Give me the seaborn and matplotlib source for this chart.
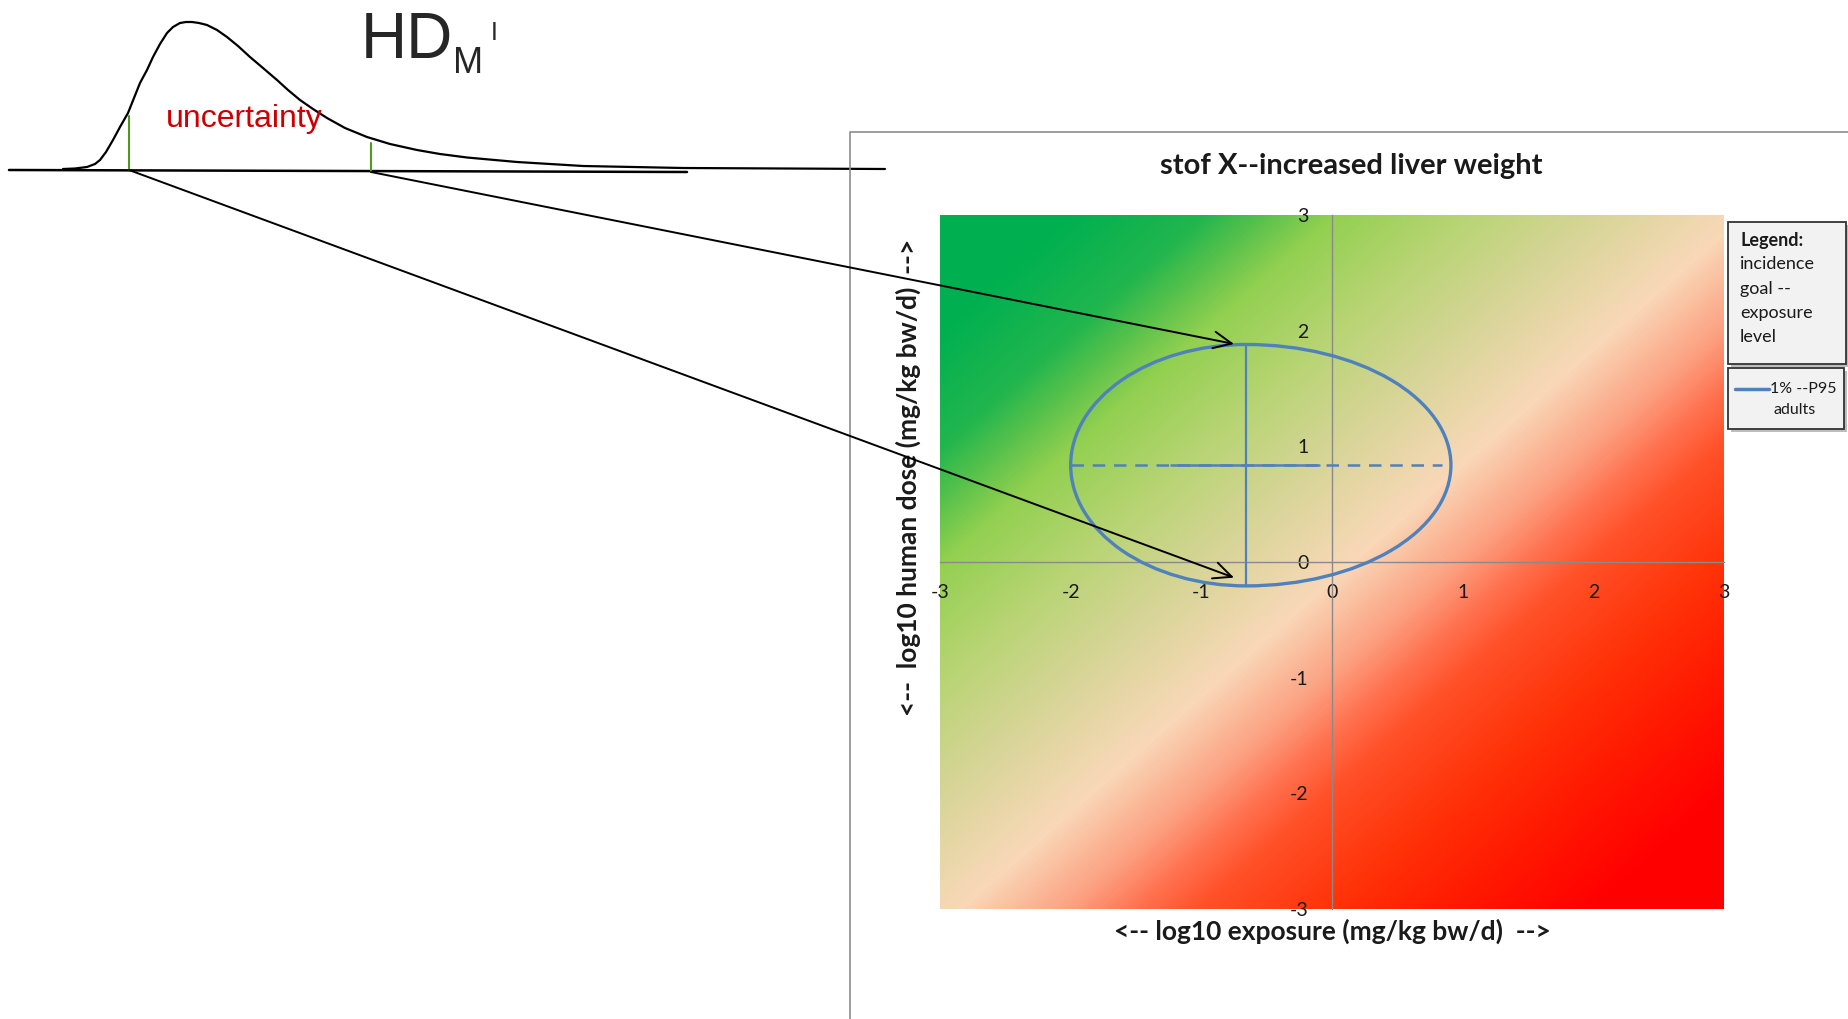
import numpy as np
import matplotlib
matplotlib.use("Agg")
import matplotlib.pyplot as plt
import seaborn as sns
from matplotlib.colors import LinearSegmentedColormap
from matplotlib.patches import Arc, Rectangle
from matplotlib.ticker import MultipleLocator

W, H = 1849, 1019

# left sketch: skewed uncertainty distribution of HD_M^I (sketch units = pixels)
curve_x = [63, 75, 87, 95, 100, 106, 113, 120, 128, 134, 140, 147, 153, 160, 167,
           173, 180, 186, 192, 199, 207, 217, 227, 238, 250, 263, 277, 288, 300,
           313, 327, 345, 367, 390, 417, 440, 467, 517, 583, 683, 885]
curve_y = [169, 168.5, 167, 164, 160, 152, 140, 127, 113, 98, 83, 70, 57, 44, 33,
           27, 23, 22, 22, 23, 25, 30, 37, 46, 57, 68, 80, 90, 100,
           109, 118, 128, 137, 144, 150, 154, 157.5, 162, 166, 168, 169]
baseline_x = [9, 687]
baseline_y = [170, 172]
# lower / upper percentile marks on the distribution
pct_x = [129, 371]
pct_top = [116, 143]
pct_base = [170, 172]

# right chart: uncertainty ellipse in log10 exposure / log10 human dose space
ell_cx, ell_cy = -0.657, 0.837
ell_left, ell_right = -2.0, 0.91
ell_bottom, ell_top = -0.207, 1.88
median_solid_x = [-1.23, -0.10]
dashed_right = 0.84
# arrow targets (data coords of the chart)
arrow_tips = [(-0.75, 1.885), (-0.75, -0.135)]

ticks = [-3, -2, -1, 0, 1, 2, 3]

BLUE = "#4f81bd"
GREEN = "#4e9a1e"


def fig_xy(x, y):
    return x / W, 1 - y / H


sns.set_style("white")
plt.rcParams["font.family"] = ["Lato", "DejaVu Sans"]
plt.rcParams["axes.unicode_minus"] = False

fig = plt.figure(figsize=(W / 100, H / 100), dpi=100)

# ---------------- main chart ----------------
ax = fig.add_axes([940 / W, 1 - 909 / H, 784 / W, 694 / H], zorder=2)
# background risk gradient along (exposure - dose): green = safe, red = risk
cmap = LinearSegmentedColormap.from_list(
    "risk",
    [(0.0, "#00b050"), (0.083, "#00b050"), (0.167, "#22b64e"), (0.208, "#5ac24c"),
     (0.25, "#92d050"), (0.333, "#b7d473"), (0.417, "#d6d596"), (0.5125, "#f9d8b8"),
     (0.583, "#fca080"), (0.625, "#ff7250"), (0.667, "#ff5028"), (0.75, "#ff3208"),
     (0.833, "#ff1800"), (0.92, "#ff0000"), (1.0, "#ff0000")],
)
gx, gy = np.meshgrid(np.linspace(-3, 3, 400), np.linspace(-3, 3, 400))
ax.imshow(gx - gy, extent=[-3, 3, -3, 3], origin="lower", cmap=cmap,
          vmin=-6, vmax=6, aspect="auto", zorder=0, interpolation="bilinear")

ry = (ell_top - ell_bottom) / 2
ax.add_patch(Arc((ell_cx, ell_cy), 2 * (ell_cx - ell_left), 2 * ry, theta1=90, theta2=270,
                 color=BLUE, lw=2.4, zorder=4))
ax.add_patch(Arc((ell_cx, ell_cy), 2 * (ell_right - ell_cx), 2 * ry, theta1=-90, theta2=90,
                 color=BLUE, lw=2.4, zorder=4))
sns.lineplot(x=[ell_cx, ell_cx], y=[ell_bottom, ell_top], ax=ax, color=BLUE, lw=1.6,
             estimator=None, sort=False, zorder=4)
ax.plot([ell_left, dashed_right], [ell_cy, ell_cy], color=BLUE, lw=1.8,
        dashes=(5, 3.5), zorder=4)
ax.plot(median_solid_x, [ell_cy, ell_cy], color=BLUE, lw=1.8, zorder=4)

ax.set_xlim(-3, 3)
ax.set_ylim(-3, 3)
for side in ["top", "right"]:
    ax.spines[side].set_visible(False)
ax.spines["left"].set_position(("data", 0))
ax.spines["bottom"].set_position(("data", 0))
for side in ["left", "bottom"]:
    ax.spines[side].set_color("#8a8a8a")
    ax.spines[side].set_linewidth(1.0)
    ax.spines[side].set_zorder(3)
ax.set_xticks(ticks)
ax.set_yticks(ticks)
ax.xaxis.set_minor_locator(MultipleLocator(0.2))
ax.yaxis.set_minor_locator(MultipleLocator(0.2))
ax.tick_params(which="both", direction="out", length=6, width=1, color="#8a8a8a",
               labelsize=14, labelcolor="#1a1a1a")
ax.tick_params(axis="x", which="major", pad=10)
ax.tick_params(axis="y", which="major", pad=11)
ax.set_xlabel("")
ax.set_ylabel("")
ax.grid(False)

fig.text(*fig_xy(1351, 166), "stof X--increased liver weight", ha="center", va="center",
         fontsize=21, fontweight="bold", color="#1a1a1a")
fig.text(*fig_xy(1332, 931), "<-- log10 exposure (mg/kg bw/d)  -->", ha="center",
         va="center", fontsize=19, fontweight="bold", color="#1a1a1a")
fig.text(*fig_xy(908, 477), "<--  log10 human dose (mg/kg bw/d)  -->", ha="center",
         va="center", rotation=90, fontsize=19, fontweight="bold", color="#1a1a1a")

# ---------------- overlay: sketch, arrows, frame, legend ----------------
ov = fig.add_axes([0, 0, 1, 1], zorder=5)
ov.patch.set_alpha(0)

sns.lineplot(x=curve_x, y=curve_y, ax=ov, color="black", lw=1.6, estimator=None, sort=False)
sns.lineplot(x=baseline_x, y=baseline_y, ax=ov, color="black", lw=1.8, estimator=None, sort=False)
for px, pt, pb in zip(pct_x, pct_top, pct_base):
    ov.plot([px, px], [pt, pb], color=GREEN, lw=1.5)

# frame of the embedded chart
ov.plot([850, 850, W], [H, 132, 132], color="#8c8c8c", lw=1.2)

# arrows from percentiles to the ellipse
for (px, pb), tip in zip(zip(pct_x[::-1], pct_base[::-1]), arrow_tips):
    ov.annotate("", xy=tip, xycoords=ax.transData, xytext=(px, pb), textcoords="data",
                arrowprops=dict(arrowstyle="->,head_length=0.65,head_width=0.3",
                                mutation_scale=20, color="black", lw=1.4,
                                shrinkA=0, shrinkB=0))

sketch_font = ["Liberation Sans", "DejaVu Sans"]
ov.text(361, 58, "HD", fontsize=46, family=sketch_font, va="baseline", ha="left")
ov.text(453, 73, "M", fontsize=26, family=sketch_font, va="baseline", ha="left")
ov.text(491, 40, "I", fontsize=18, family=sketch_font, va="baseline", ha="left")
ov.text(166, 127, "uncertainty", fontsize=23, family=sketch_font, color="#cc0000",
        va="baseline", ha="left")

# legend boxes
ov.add_patch(Rectangle((1731, 225), 118, 142, fc="#bdbdbd", ec="none"))
ov.add_patch(Rectangle((1728, 222), 118, 142, fc="#f2f2f2", ec="#333333", lw=1.3))
ov.add_patch(Rectangle((1731, 371), 116, 61, fc="#bdbdbd", ec="none"))
ov.add_patch(Rectangle((1728, 368), 116, 61, fc="#f2f2f2", ec="#333333", lw=1.3))
legend_lines = ["Legend:", "incidence", "goal --", "exposure", "level"]
for i, line in enumerate(legend_lines):
    ov.text(1740, 240 + i * 24.3, line, fontsize=13, va="center", ha="left",
            fontweight="bold" if i == 0 else "normal", color="#1a1a1a")
ov.plot([1735, 1769], [389, 389], color=BLUE, lw=2.5)
ov.text(1770, 389, "1% --P95", fontsize=11.5, va="center", ha="left", color="#1a1a1a")
ov.text(1774, 410, "adults", fontsize=11.5, va="center", ha="left", color="#1a1a1a")

ov.set_xlim(0, W)
ov.set_ylim(H, 0)
ov.axis("off")

fig.savefig("out.png", dpi=100)
